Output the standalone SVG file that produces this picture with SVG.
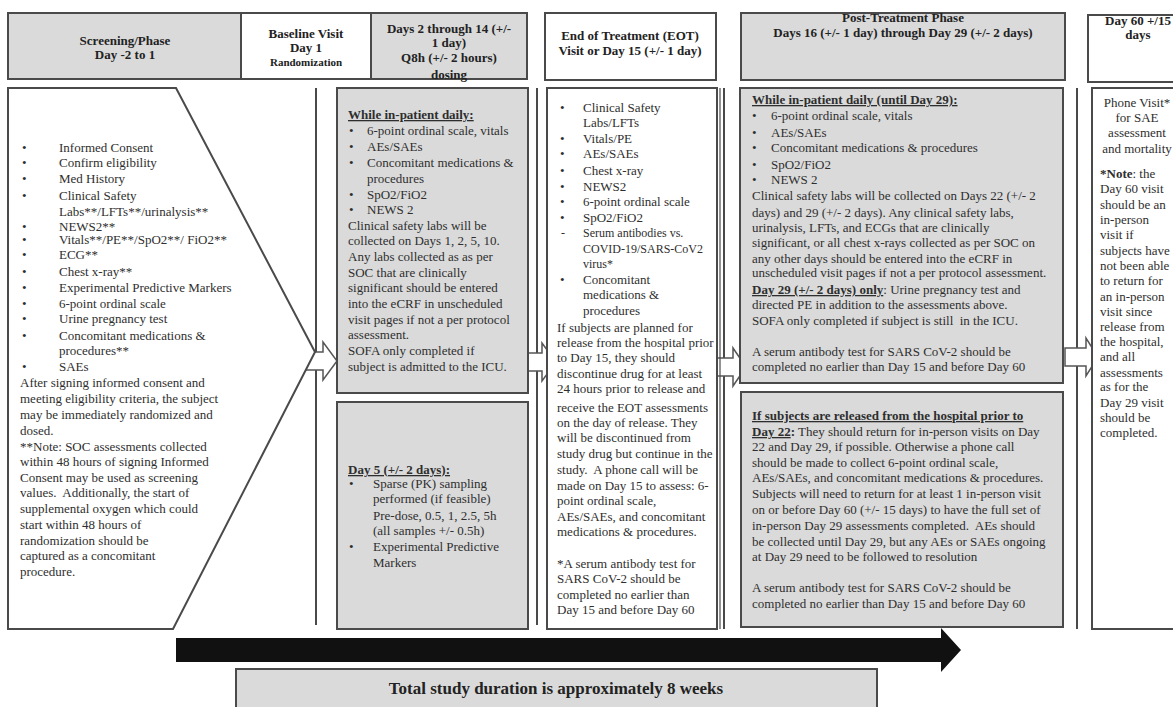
<svg xmlns="http://www.w3.org/2000/svg" width="1173" height="707" viewBox="0 0 1173 707">
<style>
text{font-family:"Liberation Serif","Times New Roman",serif;font-size:13px;fill:#2e2e2e}
.h{font-weight:bold;text-anchor:middle;fill:#222}
.b{font-weight:bold}
.u{text-decoration:underline}
.c{text-anchor:middle}
.s{font-size:12px}
.g{fill:#dadada}
.w{fill:#fff}
.bx{stroke:#4a4a4a;stroke-width:2}
.sep{stroke:#4a4a4a;stroke-width:2;fill:none}
.ha{fill:#fff;stroke:#555;stroke-width:1.5;stroke-linejoin:miter}
</style>
<rect x="0" y="0" width="1173" height="707" fill="#fff"/>

<g id="hdr-screening">
<rect x="8" y="13" width="233" height="66" class="g bx"/>
<text class="h" x="125" y="45">Screening/Phase</text>
<text class="h" x="125" y="59">Day -2 to 1</text>
</g>
<g id="hdr-baseline">
<rect x="241" y="13" width="130" height="66" class="w bx"/>
<text class="h" x="306" y="38">Baseline Visit</text>
<text class="h" x="306" y="52">Day 1</text>
<text class="h" x="306" y="66" style="font-size:11px">Randomization</text>
</g>
<g id="hdr-days2-14">
<rect x="371" y="13" width="156" height="66" class="g bx"/>
<text class="h" x="449" y="33">Days 2 through 14 (+/-</text>
<text class="h" x="449" y="47">1 day)</text>
<text class="h" x="449" y="62">Q8h (+/- 2 hours)</text>
<text class="h" x="449" y="79">dosing</text>
</g>
<g id="hdr-eot">
<rect x="545" y="13" width="171" height="67" class="w bx"/>
<text class="h" x="630" y="40">End of Treatment (EOT)</text>
<text class="h" x="630" y="55">Visit or Day 15 (+/- 1 day)</text>
</g>
<g id="hdr-post">
<rect x="741" y="13" width="324" height="67" class="g bx"/>
<text class="h" x="903" y="22">Post-Treatment Phase</text>
<text class="h" x="903" y="37">Days 16 (+/- 1 day) through Day 29 (+/- 2 days)</text>
</g>
<g id="hdr-day60">
<rect x="1088" y="15" width="102" height="67" class="w bx"/>
<text class="h" x="1138" y="25">Day 60 +/15</text>
<text class="h" x="1138" y="39">days</text>
</g>

<g id="connectors">
<path class="sep" d="M316,88 V625 M537,88 V625 M724,88 V629 M1077,88 V629"/>
<path class="ha" d="M298,352 H323 V342 L337,361 L323,380 V370 H298 Z"/>
<path class="ha" d="M518,353 H542 V343 L556,362 L542,381 V371 H518 Z"/>
<path class="ha" d="M708,358 H733 V348 L746,367 L733,386 V376 H708 Z"/>
<path class="ha" d="M1065,348 H1086 V338 L1098,357 L1086,376 V366 H1065 Z"/>
<path d="M176,638 H941 V628 L961,650 L941,672 V662 H176 Z" fill="#111"/>
</g>

<g id="screening">
<path d="M8,88 H176 L315,352 L173,629 H8 Z" class="w" stroke="#4a4a4a" stroke-width="2"/>
<g>
<text x="22" y="152">•</text><text x="59" y="152">Informed Consent</text>
<text x="22" y="167">•</text><text x="59" y="167">Confirm eligibility</text>
<text x="22" y="183">•</text><text x="59" y="183">Med History</text>
<text x="22" y="200">•</text><text x="59" y="200">Clinical Safety</text>
<text x="59" y="216">Labs**/LFTs**/urinalysis**</text>
<text x="22" y="231">•</text><text x="59" y="231">NEWS2**</text>
<text x="22" y="244">•</text><text x="59" y="244">Vitals**/PE**/SpO2**/ FiO2**</text>
<text x="22" y="259">•</text><text x="59" y="259">ECG**</text>
<text x="22" y="276">•</text><text x="59" y="276">Chest x-ray**</text>
<text x="22" y="292">•</text><text x="59" y="292">Experimental Predictive Markers</text>
<text x="22" y="308">•</text><text x="59" y="308">6-point ordinal scale</text>
<text x="22" y="323">•</text><text x="59" y="323">Urine pregnancy test</text>
<text x="22" y="340">•</text><text x="59" y="340">Concomitant medications &amp;</text>
<text x="59" y="355">procedures**</text>
<text x="22" y="371">•</text><text x="59" y="371">SAEs</text>
<text x="20" y="387">After signing informed consent and</text>
<text x="20" y="403">meeting eligibility criteria, the subject</text>
<text x="20" y="419">may be immediately randomized and</text>
<text x="20" y="435">dosed.</text>
<text x="20" y="451">**Note: SOC assessments collected</text>
<text x="20" y="466">within 48 hours of signing Informed</text>
<text x="20" y="482">Consent may be used as screening</text>
<text x="20" y="497">values.&#160; Additionally, the start of</text>
<text x="20" y="513">supplemental oxygen which could</text>
<text x="20" y="529">start within 48 hours of</text>
<text x="20" y="545">randomization should be</text>
<text x="20" y="560">captured as a concomitant</text>
<text x="20" y="576">procedure.</text>
</g>
</g>

<g id="days-inpatient">
<rect x="337" y="88" width="191" height="305" class="g bx"/>
<text x="348" y="119" class="b u">While in-patient daily:</text>
<text x="349" y="135">•</text><text x="367" y="135">6-point ordinal scale, vitals</text>
<text x="349" y="151">•</text><text x="367" y="151">AEs/SAEs</text>
<text x="349" y="167">•</text><text x="367" y="167">Concomitant medications &amp;</text>
<text x="367" y="183">procedures</text>
<text x="349" y="199">•</text><text x="367" y="199">SpO2/FiO2</text>
<text x="349" y="214">•</text><text x="367" y="214">NEWS 2</text>
<text x="348" y="230">Clinical safety labs will be</text>
<text x="348" y="245">collected on Days 1, 2, 5, 10.</text>
<text x="348" y="261">Any labs collected as as per</text>
<text x="348" y="277">SOC that are clinically</text>
<text x="348" y="292">significant should be entered</text>
<text x="348" y="308">into the eCRF in unscheduled</text>
<text x="348" y="324">visit pages if not a per protocol</text>
<text x="348" y="339">assessment.</text>
<text x="348" y="355">SOFA only completed if</text>
<text x="348" y="371">subject is admitted to the ICU.</text>
</g>

<g id="days-day5">
<rect x="337" y="402" width="191" height="227" class="g bx"/>
<text x="348" y="474" class="b u">Day 5 (+/- 2 days):</text>
<text x="349" y="488">•</text><text x="373" y="488">Sparse (PK) sampling</text>
<text x="373" y="503">performed (if feasible)</text>
<text x="373" y="520">Pre-dose, 0.5, 1, 2.5, 5h</text>
<text x="373" y="535">(all samples +/- 0.5h)</text>
<text x="349" y="551">•</text><text x="373" y="551">Experimental Predictive</text>
<text x="373" y="567">Markers</text>
</g>

<g id="eot">
<rect x="547" y="88" width="170" height="541" class="w bx"/>
<path d="M720,88 V629" stroke="#4a4a4a" stroke-width="1.2"/>
<text x="560" y="112">•</text><text x="583" y="112">Clinical Safety</text>
<text x="583" y="127">Labs/LFTs</text>
<text x="560" y="143">•</text><text x="583" y="143">Vitals/PE</text>
<text x="560" y="158">•</text><text x="583" y="158">AEs/SAEs</text>
<text x="560" y="175">•</text><text x="583" y="175">Chest x-ray</text>
<text x="560" y="191">•</text><text x="583" y="191">NEWS2</text>
<text x="560" y="206">•</text><text x="583" y="206">6-point ordinal scale</text>
<text x="560" y="222">•</text><text x="583" y="222">SpO2/FiO2</text>
<text x="561" y="237" class="s">-</text><text x="583" y="237" class="s">Serum antibodies vs.</text>
<text x="583" y="253" class="s">COVID-19/SARS-CoV2</text>
<text x="583" y="268" class="s">virus*</text>
<text x="560" y="284">•</text><text x="583" y="284">Concomitant</text>
<text x="583" y="299">medications &amp;</text>
<text x="583" y="315">procedures</text>
<text x="557" y="332">If subjects are planned for</text>
<text x="557" y="347">release from the hospital prior</text>
<text x="557" y="362">to Day 15, they should</text>
<text x="557" y="378">discontinue drug for at least</text>
<text x="557" y="393">24 hours prior to release and</text>
<text x="557" y="412">receive the EOT assessments</text>
<text x="557" y="427">on the day of release. They</text>
<text x="557" y="442">will be discontinued from</text>
<text x="557" y="458">study drug but continue in the</text>
<text x="557" y="474">study.&#160; A phone call will be</text>
<text x="557" y="490">made on Day 15 to assess: 6-</text>
<text x="557" y="505">point ordinal scale,</text>
<text x="557" y="521">AEs/SAEs, and concomitant</text>
<text x="557" y="536">medications &amp; procedures.</text>
<text x="557" y="568">*A serum antibody test for</text>
<text x="557" y="583">SARS CoV-2 should be</text>
<text x="557" y="599">completed no earlier than</text>
<text x="557" y="614">Day 15 and before Day 60</text>
</g>

<g id="post-inpatient">
<rect x="740" y="88" width="323" height="295" class="g bx"/>
<text x="752" y="104" class="b u">While in-patient daily (until Day 29):</text>
<text x="752" y="120">•</text><text x="771" y="120">6-point ordinal scale, vitals</text>
<text x="752" y="137">•</text><text x="771" y="137">AEs/SAEs</text>
<text x="752" y="152">•</text><text x="771" y="152">Concomitant medications &amp; procedures</text>
<text x="752" y="169">•</text><text x="771" y="169">SpO2/FiO2</text>
<text x="752" y="184">•</text><text x="771" y="184">NEWS 2</text>
<text x="752" y="200">Clinical safety labs will be collected on Days 22 (+/- 2</text>
<text x="752" y="217">days) and 29 (+/- 2 days). Any clinical safety labs,</text>
<text x="752" y="232">urinalysis, LFTs, and ECGs that are clinically</text>
<text x="752" y="247">significant, or all chest x-rays collected as per SOC on</text>
<text x="752" y="263">any other days should be entered into the eCRF in</text>
<text x="752" y="277">unscheduled visit pages if not a per protocol assessment.</text>
<text x="752" y="294"><tspan class="b u">Day 29 (+/- 2 days) only</tspan>: Urine pregnancy test and</text>
<text x="752" y="309">directed PE in addition to the assessments above.</text>
<text x="752" y="325">SOFA only completed if subject is still&#160; in the ICU.</text>
<text x="752" y="356">A serum antibody test for SARS CoV-2 should be</text>
<text x="752" y="371">completed no earlier than Day 15 and before Day 60</text>
</g>

<g id="post-released">
<rect x="741" y="392" width="322" height="235" class="g bx"/>
<text x="752" y="420" class="b u">If subjects are released from the hospital prior to</text>
<text x="752" y="436"><tspan class="b u">Day 22</tspan><tspan class="b">:</tspan> They should return for in-person visits on Day</text>
<text x="752" y="451">22 and Day 29, if possible. Otherwise a phone call</text>
<text x="752" y="467">should be made to collect 6-point ordinal scale,</text>
<text x="752" y="482">AEs/SAEs, and concomitant medications &amp; procedures.</text>
<text x="752" y="498">Subjects will need to return for at least 1 in-person visit</text>
<text x="752" y="514">on or before Day 60 (+/- 15 days) to have the full set of</text>
<text x="752" y="530">in-person Day 29 assessments completed.&#160; AEs should</text>
<text x="752" y="546">be collected until Day 29, but any AEs or SAEs ongoing</text>
<text x="752" y="561">at Day 29 need to be followed to resolution</text>
<text x="752" y="592">A serum antibody test for SARS CoV-2 should be</text>
<text x="752" y="608">completed no earlier than Day 15 and before Day 60</text>
</g>

<g id="day60">
<rect x="1092" y="88" width="100" height="541" class="w bx"/>
<text class="c" x="1137" y="107">Phone Visit*</text>
<text class="c" x="1137" y="122">for SAE</text>
<text class="c" x="1137" y="137">assessment</text>
<text class="c" x="1137" y="153">and mortality</text>
<text x="1100" y="178"><tspan class="b">*Note</tspan>: the</text>
<text x="1100" y="193">Day 60 visit</text>
<text x="1100" y="209">should be an</text>
<text x="1100" y="224">in-person</text>
<text x="1100" y="239">visit if</text>
<text x="1100" y="255">subjects have</text>
<text x="1100" y="270">not been able</text>
<text x="1100" y="285">to return for</text>
<text x="1100" y="301">an in-person</text>
<text x="1100" y="316">visit since</text>
<text x="1100" y="331">release from</text>
<text x="1100" y="346">the hospital,</text>
<text x="1100" y="361">and all</text>
<text x="1100" y="377">assessments</text>
<text x="1100" y="391">as for the</text>
<text x="1100" y="407">Day 29 visit</text>
<text x="1100" y="422">should be</text>
<text x="1100" y="437">completed.</text>
</g>

<g id="total">
<rect x="236" y="669" width="641" height="50" class="g bx"/>
<text class="h" x="556" y="694" style="font-size:17px">Total study duration is approximately 8 weeks</text>
</g>
</svg>
